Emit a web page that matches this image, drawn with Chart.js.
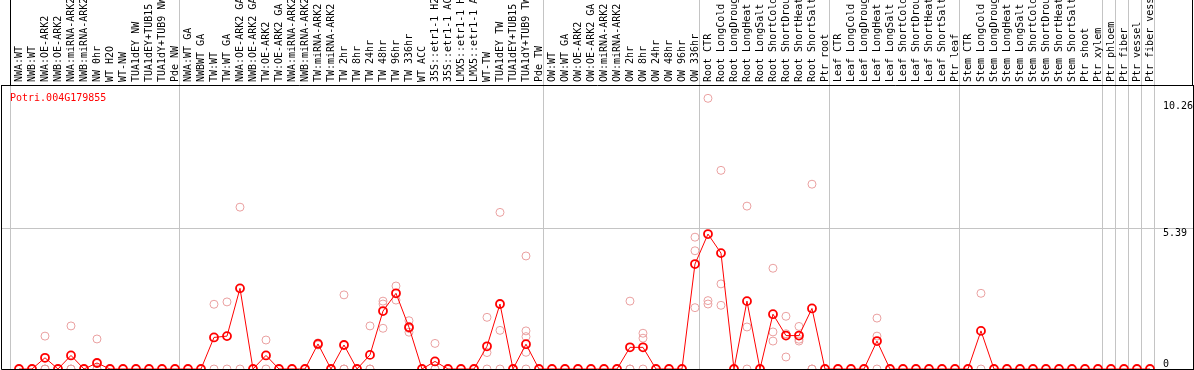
<!DOCTYPE html>
<html>
<head>
<meta charset="utf-8">
<script src="https://cdn.jsdelivr.net/npm/chart.js@4.4.1/dist/chart.umd.min.js"></script>
<style>
  html, body { margin: 0; padding: 0; background: #fff; }
</style>
</head>
<body>
<canvas id="chart" width="1194" height="370"></canvas>
<script>
const geneId = 'Potri.004G179855';

const categories = [
  'NWA:WT', 'NWB:WT', 'NWA:OE-ARK2', 'NWB:OE-ARK2', 'NWA:miRNA-ARK2', 'NWB:miRNA-ARK2',
  'NW 0hr', 'WT H2O', 'WT-NW', 'TUA1dEY NW', 'TUA1dEY+TUB15 NW', 'TUA1dY+TUB9 NW', 'Pde NW',
  'NWA:WT GA', 'NWBWT GA', 'TW:WT', 'TW:WT GA', 'NWA:OE-ARK2 GA', 'NWB:OE-ARK2 GA',
  'TW:OE-ARK2', 'TW:OE-ARK2 GA', 'NWA:miRNA-ARK2', 'NWB:miRNA-ARK2', 'TW:miRNA-ARK2',
  'TW:miRNA-ARK2', 'TW 2hr', 'TW 8hr', 'TW 24hr', 'TW 48hr', 'TW 96hr', 'TW 336hr', 'WT ACC',
  '35S::etr1-1 H2O', '35S::etr1-1 ACC', 'LMX5::etr1-1 H2O', 'LMX5::etr1-1 ACC', 'WT-TW',
  'TUA1dEY TW', 'TUA1dEY+TUB15 TW', 'TUA1dY+TUB9 TW', 'Pde TW',
  'OW:WT', 'OW:WT GA', 'OW:OE-ARK2', 'OW:OE-ARK2 GA', 'OW:miRNA-ARK2', 'OW:miRNA-ARK2',
  'OW 2hr', 'OW 8hr', 'OW 24hr', 'OW 48hr', 'OW 96hr', 'OW 336hr',
  'Root CTR', 'Root LongCold', 'Root LongDrought', 'Root LongHeat', 'Root LongSalt',
  'Root ShortCold', 'Root ShortDrought', 'Root ShortHeat', 'Root ShortSalt', 'Ptr root',
  'Leaf CTR', 'Leaf LongCold', 'Leaf LongDrought', 'Leaf LongHeat', 'Leaf LongSalt',
  'Leaf ShortCold', 'Leaf ShortDrought', 'Leaf ShortHeat', 'Leaf ShortSalt', 'Ptr leaf',
  'Stem CTR', 'Stem LongCold', 'Stem LongDrought', 'Stem LongHeat', 'Stem LongSalt',
  'Stem ShortCold', 'Stem ShortDrought', 'Stem ShortHeat', 'Stem ShortSalt', 'Ptr shoot',
  'Ptr xylem', 'Ptr phloem', 'Ptr fiber', 'Ptr vessel', 'Ptr fiber vessel'
];

// mean expression per sample
const means = [
  0, 0, 0.43, 0, 0.52, 0, 0.23, 0, 0, 0, 0, 0, 0,
  0, 0, 1.21, 1.26, 3.09, 0, 0.52, 0, 0, 0, 0.96, 0, 0.92, 0, 0.54, 2.22, 2.9, 1.6, 0,
  0.29, 0, 0, 0, 0.87, 2.49, 0, 0.95, 0,
  0, 0, 0, 0, 0, 0, 0.83, 0.83, 0, 0, 0, 4.02,
  5.17, 4.44, 0, 2.6, 0, 2.1, 1.28, 1.28, 2.32, 0,
  0, 0, 0, 1.07, 0, 0, 0, 0, 0, 0,
  0, 1.46, 0, 0, 0, 0, 0, 0, 0, 0, 0,
  0, 0, 0, 0
];

// individual replicates per sample
const replicates = [
  [0, 0], [0, 0], [1.26, 0, 0], [0, 0], [1.65, 0, 0], [0, 0], [1.15, 0, 0],
  [0, 0], [0, 0], [0, 0], [0, 0], [0, 0], [0, 0],
  [0, 0], [0, 0], [2.48, 0], [2.57, 0], [6.2, 0], [0, 0], [1.11, 0], [0, 0],
  [0, 0], [0, 0], [1.0, 0.92], [0, 0], [2.84, 0, 0], [0, 0], [1.65, 0, 0],
  [2.6, 2.49, 1.56], [3.18, 2.64], [1.85, 1.41, 1.55], [0, 0], [0.98, 0, 0],
  [0, 0], [0, 0], [0, 0], [1.98, 0.63, 0], [6.0, 1.48, 0], [0, 0],
  [4.33, 1.46, 1.24, 0.64, 0], [0, 0],
  [0, 0], [0, 0], [0, 0], [0, 0], [0, 0], [0, 0], [2.6, 0, 0], [1.37, 1.18, 0],
  [0, 0], [0, 0], [0, 0], [5.05, 4.53, 2.35],
  [10.37, 2.62, 2.49], [7.61, 3.26, 2.44], [0, 0], [6.24, 1.61, 0], [0, 0],
  [3.86, 1.42, 1.07], [2.02, 1.35, 0.46], [1.63, 1.14, 1.07], [7.08, 0, 0], [0, 0],
  [0, 0], [0, 0], [0, 0], [1.95, 1.26, 0], [0, 0], [0, 0], [0, 0], [0, 0], [0, 0], [0, 0],
  [0, 0], [2.9, 0], [0, 0], [0, 0], [0, 0], [0, 0], [0, 0], [0, 0], [0, 0], [0, 0], [0, 0],
  [0, 0], [0, 0], [0, 0], [0, 0]
];

// last sample index of each group (separator drawn after it)
const groupEnds = [-1, 12, 40, 52, 62, 72, 83, 84, 85, 86, 87];
const yTicks = [0, 5.39, 10.26];

const sepValues = groupEnds.map(k => k + 5 / 13);
const isSep = v => sepValues.some(s => Math.abs(s - v) < 1e-6);
const gridGray = '#c4c4c4';
const font = { family: '"DejaVu Sans Mono", monospace', size: 10 };

const meanPoints = means.map((v, i) => ({ x: i, y: v }));
const repPoints = [];
replicates.forEach((reps, i) => reps.forEach(v => repPoints.push({ x: i, y: v })));

const frame = {
  id: 'frame',
  afterDraw(chart) {
    const { ctx, chartArea: a } = chart;
    ctx.save();
    ctx.strokeStyle = '#000';
    ctx.lineWidth = 1;
    ctx.beginPath();
    ctx.moveTo(a.left + 0.5, a.top);
    ctx.lineTo(a.left + 0.5, a.bottom + 0.5);
    ctx.lineTo(a.right, a.bottom + 0.5);
    ctx.moveTo(Math.round(a.right) - 0.5, 0);
    ctx.lineTo(Math.round(a.right) - 0.5, a.top);
    ctx.stroke();
    ctx.fillStyle = '#ff0000';
    ctx.font = '10px "DejaVu Sans Mono", monospace';
    ctx.fillText(geneId, a.left + 9, a.top + 16);
    ctx.restore();
  }
};

new Chart(document.getElementById('chart').getContext('2d'), {
  data: {
    datasets: [
      {
        type: 'line',
        data: meanPoints,
        borderColor: '#ff0000',
        borderWidth: 1,
        pointRadius: 4,
        pointBorderWidth: 1.8,
        pointBorderColor: '#ff0000',
        pointBackgroundColor: 'rgba(0,0,0,0)',
        clip: false,
        order: 0
      },
      {
        type: 'scatter',
        data: repPoints,
        pointRadius: 4,
        pointBorderWidth: 1,
        pointBorderColor: '#eaa0a0',
        pointBackgroundColor: 'rgba(0,0,0,0)',
        clip: false,
        order: 1
      }
    ]
  },
  options: {
    responsive: false,
    animation: false,
    devicePixelRatio: 1,
    layout: { autoPadding: false, padding: { left: 1, right: 1, top: 0, bottom: 1 } },
    plugins: { legend: { display: false }, tooltip: { enabled: false } },
    scales: {
      x: {
        type: 'linear',
        position: 'top',
        min: -18 / 13,
        max: 90.31,
        afterBuildTicks: s => {
          s.ticks = categories.map((c, i) => ({ value: i }))
            .concat(sepValues.map(v => ({ value: v })))
            .sort((a, b) => a.value - b.value);
        },
        afterFit: s => {
          s.height = 85;
          s.paddingLeft = 0;
          s.paddingRight = 0;
        },
        grid: {
          drawTicks: true,
          tickLength: 85,
          color: c => (c.tick && isSep(c.tick.value)) ? gridGray : 'rgba(0,0,0,0)',
          tickColor: c => {
            if (!c.tick || !isSep(c.tick.value)) return 'rgba(0,0,0,0)';
            return c.tick.value < 0 ? '#000' : gridGray;
          }
        },
        border: { display: true, color: '#000' },
        ticks: {
          autoSkip: false,
          minRotation: 90,
          maxRotation: 90,
          padding: -82,
          labelOffset: 12,
          font: font,
          color: '#000',
          callback: v => Number.isInteger(v) ? categories[v] : ''
        }
      },
      y: {
        type: 'linear',
        position: 'right',
        min: 0,
        max: 10.88,
        afterBuildTicks: s => { s.ticks = yTicks.map(v => ({ value: v })); },
        afterFit: s => {
          s.paddingTop = 0;
          s.paddingBottom = 0;
        },
        grid: {
          drawTicks: false,
          color: c => (c.tick && c.tick.value === 5.39) ? gridGray : 'rgba(0,0,0,0)'
        },
        border: { display: true, color: '#000' },
        ticks: {
          mirror: true,
          crossAlign: 'far',
          padding: 0,
          font: { family: font.family, size: 10, lineHeight: 1 },
          color: '#000',
          callback: v => v === 0 ? ['0', ''] : ['', String(v)]
        }
      }
    }
  },
  plugins: [frame]
});
</script>
</body>
</html>
